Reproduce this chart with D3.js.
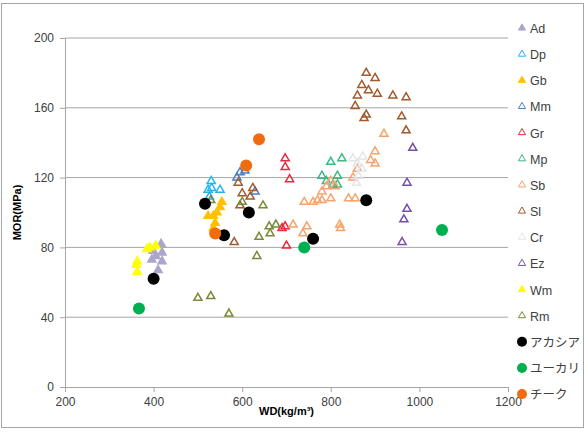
<!DOCTYPE html>
<html lang="ja">
<head>
<meta charset="UTF-8">
<title>WD vs MOR</title>
<script src="https://d3js.org/d3.v7.min.js"></script>
<style>
    body{
        margin: 0;
        background: white;
        font-family: "Liberation Sans", Arial, sans-serif;
    }
    svg{
        display: block;
    }
</style>
</head>
<body>
<svg></svg>
<script>
    const width = 588;
    const height = 434;

    /* series names, in legend order */
    const seriesNames = ['Ad','Dp','Gb','Mm','Gr','Mp','Sb','Sl','Cr','Ez','Wm','Rm','アカシア','ユーカリ','チーク'];

    /* values: [WD, MOR] */
    const Ad = [[417,82],[419,77],[399,78],[396,73],[419,72],[410,67],[405,75]];
    const Dp = [[530,118],[523,113],[531,114],[550,113],[526,109]];
    const Gb = [[554,106],[550,103],[543,100],[535,98],[523,98],[539,94],[535,91],[540,88]];
    const Mm = [[595,123],[588,120],[606,124],[629,112]];
    const Gr = [[697,131],[697,126],[707,119],[690,91],[697,92],[700,81]];
    const Mp = [[780,121],[790,118],[800,129],[805,116],[815,121],[825,131],[815,116]];
    const Sb = [[920,145],[900,135],[890,130],[900,128],[860,125],[850,120],[800,118],[810,115],
                [790,115],[780,112],[760,106],[740,106],[746,92],[715,93],[737,88],[820,93],
                [822,91],[840,108],[855,108],[800,108],[780,107],[770,107]];
    const Sl = [[880,180],[900,177],[870,173],[885,170],[860,167],[905,168],[940,167],[970,166],
                [855,161],[880,156],[875,154],[960,155],[970,147],
                [591,117],[600,111],[624,114],[618,109],[595,104],[582,83]];
    const Cr = [[850,131],[860,128],[870,125],[862,121],[858,117],[872,132]];
    const Ez = [[985,137],[972,117],[972,102],[965,96],[961,83]];
    const Wm = [[385,79],[392,80],[405,81],[363,72],[361,70],[363,66]];
    const Rm = [[529,107],[600,106],[647,104],[661,92],[676,93],[663,88],[638,86],[633,75],
                [500,51],[529,52],[570,42]];
    const acacia = [[400,62],[516,105],[559,87],[615,100],[760,85],[880,107]];
    const eucalyptus = [[367,45],[740,80],[1051,90]];
    const teak = [[638,142],[609,127],[539,88]];

    const xTicks = [200,400,600,800,1000,1200];
    const yTicks = [0,40,80,120,160,200];

    const seriesData = [Ad,Dp,Gb,Mm,Gr,Mp,Sb,Sl,Cr,Ez,Wm,Rm,acacia,eucalyptus,teak];

    /* marker style for each series */
    const styles = [
        {shape:'tri', fill:'#aca5cc', stroke:'#aca5cc'},
        {shape:'tri', fill:'none', stroke:'#22b5ec'},
        {shape:'tri', fill:'#ffc000', stroke:'#ffc000'},
        {shape:'tri', fill:'none', stroke:'#4a7fc6'},
        {shape:'tri', fill:'none', stroke:'#e8283c'},
        {shape:'tri', fill:'none', stroke:'#3db883'},
        {shape:'tri', fill:'none', stroke:'#f4a46c'},
        {shape:'tri', fill:'none', stroke:'#a05a2c'},
        {shape:'tri', fill:'none', stroke:'#e4e4ea'},
        {shape:'tri', fill:'none', stroke:'#7850a8'},
        {shape:'tri', fill:'#ffff00', stroke:'#ffff00'},
        {shape:'tri', fill:'none', stroke:'#7a8a3a'},
        {shape:'circle', fill:'#000000'},
        {shape:'circle', fill:'#00b050'},
        {shape:'circle', fill:'#f26b10'}
    ];

    const svg = d3.select('svg')
        .attr('width', width)
        .attr('height', height);

    /* outer frame */
    svg.append('rect')
        .attr('x', 1.5).attr('y', 3.5)
        .attr('width', 582).attr('height', 424)
        .attr('fill', 'white')
        .attr('stroke', '#a6a6a6');

    const x = d3.scaleLinear().domain([200,1200]).range([65,508]);
    const y = d3.scaleLinear().domain([0,200]).range([387,38]);

    /* horizontal grid */
    svg.append('g')
        .selectAll('line')
        .data(yTicks.filter(d => d > 0))
        .join('line')
        .attr('x1', x(200)).attr('x2', x(1200))
        .attr('y1', d => y(d)).attr('y2', d => y(d))
        .attr('stroke', '#a6a6a6')
        .attr('stroke-width', 1);

    /* axes */
    const xAxis = svg.append('g')
        .attr('transform', `translate(0,${y(0)})`)
        .call(d3.axisBottom(x).tickValues(xTicks).tickFormat(d3.format('d')).tickSize(5).tickPadding(5));
    const yAxis = svg.append('g')
        .attr('transform', `translate(${x(200)},0)`)
        .call(d3.axisLeft(y).tickValues(yTicks).tickFormat(d3.format('d')).tickSize(5).tickPadding(6));

    [xAxis, yAxis].forEach(g => {
        g.select('.domain').attr('stroke', '#a6a6a6');
        g.selectAll('.tick line').attr('stroke', '#a6a6a6');
        g.selectAll('.tick text')
            .attr('fill', '#404040')
            .style('font-size', '12px')
            .style('font-family', '"Liberation Sans", Arial, sans-serif');
    });

    /* axis titles */
    svg.append('text')
        .attr('x', x(700)).attr('y', 415)
        .attr('text-anchor', 'middle')
        .style('font-size', '11px')
        .style('font-weight', 'bold')
        .text('WD(kg/m³)');
    svg.append('text')
        .attr('transform', `translate(21,${y(100)}) rotate(-90)`)
        .attr('text-anchor', 'middle')
        .style('font-size', '11px')
        .style('font-weight', 'bold')
        .text('MOR(MPa)');

    const triangle = d3.symbol().type(d3.symbolTriangle).size(28);

    function drawMarker(g, st){
        if(st.shape === 'tri'){
            g.append('path')
                .attr('d', triangle)
                .attr('fill', st.fill)
                .attr('stroke', st.stroke)
                .attr('stroke-width', 1.5);
        }else{
            g.append('circle')
                .attr('r', 6)
                .attr('fill', st.fill);
        }
    }

    /* points */
    seriesData.forEach((pts, i) => {
        const grp = svg.append('g');
        pts.forEach(p => {
            const m = grp.append('g')
                .attr('transform', `translate(${x(p[0])},${y(p[1])})`);
            drawMarker(m, styles[i]);
        });
    });

    /* legend */
    const legend = svg.append('g');
    seriesNames.forEach((name, i) => {
        const ly = 28 + i * 26.15;
        const m = legend.append('g')
            .attr('transform', `translate(522,${ly})`);
        const st = styles[i];
        if(st.shape === 'tri'){
            drawMarker(m, st);
            m.select('path').attr('d', d3.symbol().type(d3.symbolTriangle).size(22)).attr('stroke-width', 1);
        }else{
            m.append('circle').attr('r', 5).attr('fill', st.fill);
        }
        legend.append('text')
            .attr('x', 530).attr('y', ly + 5)
            .attr('fill', '#404040')
            .style('font-size', '12.5px')
            .style('font-family', i >= 12 ? '"Noto Sans CJK JP", sans-serif' : '"Liberation Sans", Arial, sans-serif')
            .text(name);
    });
</script>
</body>
</html>
